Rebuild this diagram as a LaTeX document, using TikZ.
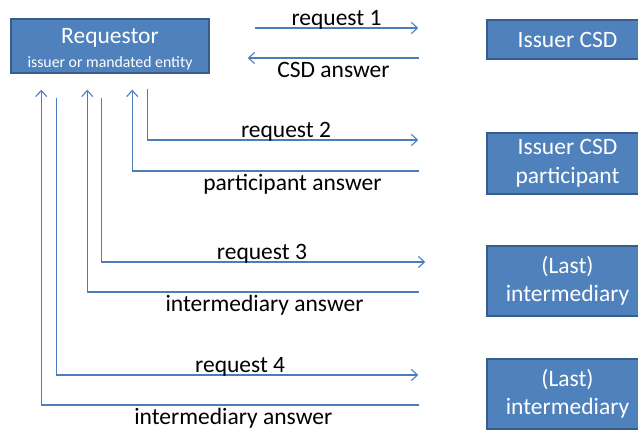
\documentclass[tikz,border=0pt]{standalone}
\usepackage{fontspec}
\setmainfont{Carlito}
\usepackage{xcolor}
\usetikzlibrary{arrows.meta}
\definecolor{boxblue}{HTML}{4F81BD}
\definecolor{boxedge}{HTML}{385D8A}
\definecolor{lineblue}{HTML}{4A7EBB}

\begin{document}
\begin{tikzpicture}[x=1pt,y=-1pt]
	\clip (0,0) rectangle (638,430);
	\begin{scope}[every node/.style = {rectangle, draw=boxedge, fill=boxblue, line width=1.5pt,
			text=white, align=center, inner sep=0pt, font=\fontsize{23.5}{28.5}\selectfont}]
		\node[minimum width=198pt, minimum height=54pt] (R) at (110,46)
			{\rule{0pt}{22pt}Requestor\\[-5pt]{\fontsize{15.8}{20}\selectfont issuer or mandated entity}};
		\node[minimum width=161pt, minimum height=39pt] (C) at (567.5,39.5) {Issuer CSD};
		\node[minimum width=161pt, minimum height=61pt] (P) at (567.5,163.5) {Issuer CSD\\participant};
		\node[minimum width=161pt, minimum height=70pt] (I) at (567.5,281) {(Last)\\intermediary};
		\node[minimum width=161pt, minimum height=70pt] (L) at (567.5,394) {(Last)\\intermediary};
	\end{scope}
	\begin{scope}[>={Straight Barb[length=6pt,width=11pt]},
			every edge/.style={draw=lineblue, line width=1.1pt},
			hv/.style={to path={|- (\tikztotarget) \tikztonodes}},
			vh/.style={to path={-| (\tikztotarget) \tikztonodes}},
			every node/.style={font=\fontsize{23.5}{28}\selectfont, anchor=base},
			ask/.style={yshift=2.5pt}, reply/.style={yshift=-20pt}]
		% Issuer CSD
		\path [->] ([shift={(45,-18)}]R.east) edge
			node[ask, midway] {request 1} ([shift={(-68,-11.5)}]C.west);
		\path [->] ([shift={(-67,18.5)}]C.west) edge
			node[reply, midway] {CSD answer} ([shift={(38,12)}]R.east);
		% participant
		\path [->] ([shift={(137,15)}]R.south west) edge[hv]
			node[ask, pos=0.756] {request 2} ([shift={(-68,-23.5)}]P.west);
		\path [->] ([shift={(-67,7.5)}]P.west) edge[vh]
			node[reply, pos=0.221] {participant answer} ([shift={(122,16)}]R.south west);
		% intermediaries
		\path [->] ([shift={(91,24)}]R.south west) edge[hv]
			node[ask, pos=0.748] {request 3} ([shift={(-61,-19)}]I.west);
		\path [->] ([shift={(-67,11)}]I.west) edge[vh]
			node[reply, pos=0.233] {intermediary answer} ([shift={(77,16)}]R.south west);
		\path [->] ([shift={(46,24)}]R.south west) edge[hv]
			node[ask, pos=0.754] {request 4} ([shift={(-68,-19)}]L.west);
		\path [->] ([shift={(-67,11)}]L.west) edge[vh]
			node[reply, pos=0.246] {intermediary answer} ([shift={(31,16)}]R.south west);
	\end{scope}
\end{tikzpicture}
\end{document}
